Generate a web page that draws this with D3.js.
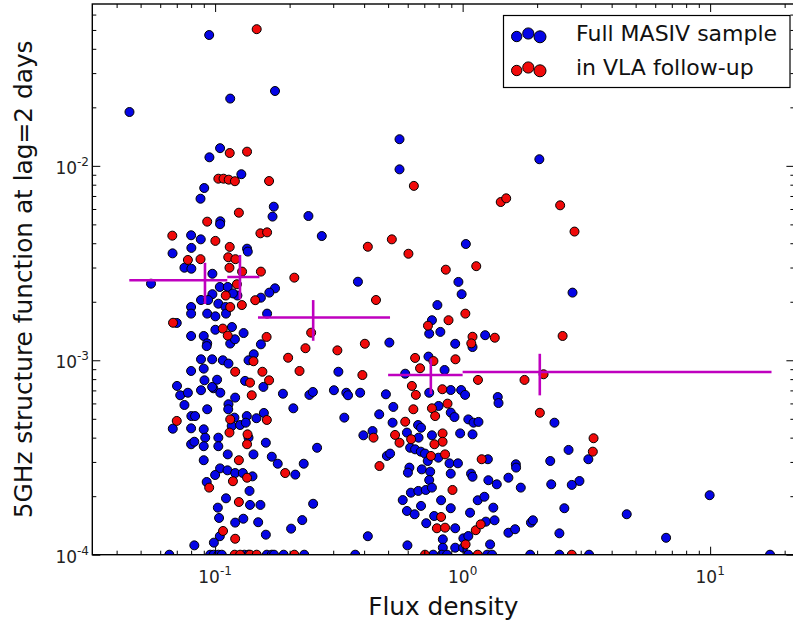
<!DOCTYPE html>
<html><head><meta charset="utf-8">
<script src="https://cdn.jsdelivr.net/npm/d3@7"></script>
<style>body{margin:0;background:#fff}svg{display:block}</style>
</head><body><svg id="c" width="793" height="624"></svg>
<script>
// ---- data (log10 flux density, log10 structure function) ----
const xTicks = [0.1, 1, 10];
const xTickExp = ["-1", "0", "1"];
const yTicks = [1e-4, 1e-3, 1e-2];
const yTickExp = ["-4", "-3", "-2"];
const xDomain = [0.0319, 21.9];
const yDomain = [1e-4, 0.068];

const blueLog = [
[-1.346,-1.723],[-1.024,-1.327],[-0.939,-1.654],[-0.758,-1.615],[-0.255,-1.863],[-0.255,-2.018],[0.310,-1.966],[0.013,-2.402],[-0.017,-2.597],[-0.004,-2.660],[0.444,-2.652],[-0.102,-2.716],[-0.124,-2.794],
[-0.980,-1.909],[-1.023,-1.956],[-0.894,-2.043],[-1.044,-2.114],[-1.059,-2.169],[-0.763,-2.210],[-0.768,-2.261],[-0.979,-2.285],[-0.980,-2.300],[-0.623,-2.258],[-0.569,-2.361],[-1.097,-2.357],[-1.058,-2.378],[-1.172,-2.450],[-1.096,-2.422],[-0.871,-2.426],[-0.868,-2.441],[-1.124,-2.524],[-1.096,-2.529],[-0.423,-2.596],[-1.259,-2.606],[-1.011,-2.555],[-0.981,-2.623],[-0.949,-2.623],[-0.758,-2.630],[-0.781,-2.652],[-0.815,-2.678],[-1.011,-2.660],[-0.910,-2.667],[-1.057,-2.690],[-1.028,-2.690],[-0.987,-2.709],[-0.958,-2.726],[-1.097,-2.726],[-1.097,-2.760],[-1.032,-2.760],[-0.999,-2.774],[-0.956,-2.760],[-0.790,-2.760],[-0.928,-2.656],
[-1.155,-2.808],[-1.097,-2.875],[-1.046,-2.875],[-1.032,-2.913],[-1.034,-2.927],[-0.999,-2.843],[-0.932,-2.829],[-0.939,-2.914],[-0.920,-2.892],[-0.885,-2.860],[-0.815,-2.918],[-0.296,-2.909],[-0.502,-3.059],
[-0.844,-2.969],[-1.097,-3.055],[-1.046,-3.043],[-1.012,-2.995],[-1.057,-2.995],[-0.969,-3.000],[-0.946,-3.017],[-0.865,-3.000],[-0.805,-3.137],[-0.879,-3.106],[-1.154,-3.132],[-1.141,-3.180],[-1.110,-3.167],[-1.124,-3.230],[-1.057,-3.154],[-1.007,-3.144],[-0.979,-3.167],[-1.043,-3.103],[-1.012,-3.137],[-0.992,-3.100],[-0.919,-3.192],[-0.946,-3.226],[-0.947,-3.252],[-1.096,-3.287],[-1.032,-3.252],[-0.872,-3.287],[-0.922,-3.295],[-0.833,-3.298],[-0.803,-3.271],[-0.726,-3.172],[-0.684,-3.247],[-0.619,-3.178],[-0.605,-3.163],[-0.520,-3.154],[-0.470,-3.167],[-0.463,-3.180],[-0.414,-3.167],[-0.478,-3.295],[-0.310,-3.175],[-0.280,-3.240],[-0.283,-3.321],
[-1.171,-3.352],[-1.097,-3.350],[-1.081,-3.287],[-1.046,-3.355],[-1.040,-3.398],[-1.097,-3.432],[-1.084,-3.419],[-0.987,-3.398],[-0.987,-3.442],[-1.046,-3.442],[-1.046,-3.514],[-0.933,-3.338],[-0.899,-3.333],[-0.876,-3.321],[-0.865,-3.398],[-0.949,-3.484],[-0.795,-3.424],[-0.845,-3.484],[-0.771,-3.496],[-0.747,-3.532],[-0.676,-3.588],[-0.642,-3.532],[-0.588,-3.450],[-0.980,-3.556],[-0.950,-3.566],[-0.919,-3.580],[-0.888,-3.580],[-0.849,-3.597],[-1.034,-3.626],[-0.861,-3.672],[-1.000,-3.590],[-0.956,-3.710],[-0.859,-3.744],[-0.817,-3.744],[-0.989,-3.758],[-0.604,-3.738],[-0.984,-3.811],[-0.919,-3.835],[-0.886,-3.815],[-0.826,-3.833],[-0.981,-3.905],[-1.005,-3.938],[-0.795,-3.897],[-0.693,-3.866],[-0.648,-3.822],[-1.084,-3.952],[-0.383,-3.905],
[-1.185,-4],[-1.020,-4],[-1.006,-4],[-0.987,-4],[-0.973,-4],[-0.882,-4],[-0.865,-4],[-0.791,-4],[-0.771,-4],[-0.762,-4],[-0.723,-4],[-0.640,-4],[-0.434,-4],
[-0.135,-2.863],[-0.090,-2.854],[-0.030,-2.915],[0.040,-2.932],[0.091,-2.871],[-0.138,-2.981],[-0.073,-3.050],[-0.232,-3.069],[-0.135,-3.167],[-0.048,-3.153],[-0.006,-3.153],[0.010,-3.178],[0.142,-3.189],[0.145,-3.220],[-0.097,-3.235],[-0.048,-3.269],[-0.033,-3.292],[-0.337,-3.278],[-0.180,-3.333],[-0.168,-3.347],[0.023,-3.304],[0.044,-3.321],[0.064,-3.317],[-0.401,-3.386],[-0.364,-3.364],[-0.225,-3.372],[-0.178,-3.398],[-0.124,-3.386],[-0.010,-3.376],[0.040,-3.381],[-0.212,-3.450],[-0.192,-3.458],[-0.169,-3.470],[-0.152,-3.480],[-0.098,-3.501],[-0.306,-3.492],[-0.293,-3.480],[0.102,-3.509],[-0.141,-3.518],[-0.053,-3.530],[-0.019,-3.530],[-0.215,-3.552],[-0.221,-3.578],[-0.165,-3.561],[-0.131,-3.573],[-0.048,-3.583],[0.034,-3.583],[0.040,-3.599],[0.215,-3.535],[0.216,-3.552],[0.185,-3.604],[0.104,-3.617],[0.138,-3.638],[-0.135,-3.616],[0.235,-3.655],[0.354,-3.518],[0.358,-3.638],[-0.242,-3.719],[-0.209,-3.681],[-0.179,-3.672],[-0.149,-3.667],[-0.124,-3.655],[-0.087,-3.720],[-0.168,-3.749],[-0.225,-3.775],[-0.194,-3.792],[-0.048,-3.761],[0.030,-3.784],[0.061,-3.720],[0.088,-3.702],[0.124,-3.758],[-0.115,-3.801],[-0.147,-3.838],[-0.030,-3.864],[0.094,-3.830],[0.129,-3.823],[-0.080,-3.921],[0.003,-3.916],[0.023,-3.904],[-0.223,-3.952],[0.111,-3.947],[0.185,-3.887],[0.212,-3.869],[0.276,-3.835],[0.284,-3.823],[-0.080,-3.964],[-0.030,-3.964],[0.002,-3.964],[0.391,-3.890],[0.822,-3.913],[0.371,-3.321],[0.428,-3.461],[0.508,-3.509],[0.472,-3.621],[0.441,-3.641],[0.411,-3.761],[0.663,-3.792],[0.998,-3.694],
[-0.119,-4],[-0.084,-4],[-0.063,-4],[0.023,-4],[0.099,-4],[0.119,-4],[0.273,-4],[0.391,-4],[0.511,-4],[1.242,-4]
];

const redLog = [
[-0.832,-1.297],[-0.197,-2.103],[0.154,-2.186],[0.176,-2.167],[0.394,-2.203],[0.452,-2.338],[-0.219,-2.452],[-0.068,-2.534],[0.055,-2.516],[0.011,-2.760],[-0.057,-2.794],
[-0.941,-1.934],[-0.871,-1.927],[-0.987,-2.066],[-0.966,-2.066],[-0.945,-2.071],[-0.920,-2.079],[-0.782,-2.078],[-0.904,-2.241],[-1.032,-2.287],[-0.817,-2.347],[-0.790,-2.342],[-1.173,-2.359],[-0.999,-2.386],[-0.941,-2.417],[-1.110,-2.484],[-1.059,-2.480],[-0.947,-2.470],[-0.918,-2.480],[-0.942,-2.524],[-0.891,-2.544],[-0.815,-2.544],[-0.680,-2.575],[-0.912,-2.609],[-0.957,-2.667],[-0.838,-2.691],[-0.350,-2.690],[-0.892,-2.716],[-0.939,-2.726],[-0.383,-2.416],[-0.286,-2.378],
[-1.170,-2.807],[-0.969,-2.837],[-0.949,-2.873],[-0.792,-2.880],[-0.612,-2.858],[-0.635,-2.938],[-0.506,-2.949],[-0.395,-2.915],[-0.405,-3.076],[-0.705,-2.987],[-0.659,-3.055],[-0.845,-3.005],[-0.919,-3.059],[-0.809,-3.059],[-0.782,-3.103],[-0.859,-3.115],[-0.852,-3.180],[-0.939,-3.304],[-0.791,-3.307],[-1.155,-3.312],[-0.942,-3.372],[-0.869,-3.381],[-0.871,-3.432],[-0.717,-3.580],[-0.904,-3.514],[-0.871,-3.604],[-1.024,-3.655],[-0.928,-3.622],[-0.904,-3.729],[-0.968,-3.878],[-0.919,-3.918],
[-0.921,-4],[-0.899,-4],[-0.859,-4],[-0.832,-4],[-0.680,-4],
[-0.140,-2.822],[0.040,-2.879],[0.035,-2.913],[0.130,-2.884],[-0.192,-2.988],[-0.118,-3.004],[-0.029,-2.995],[-0.172,-3.041],[0.062,-3.101],[0.250,-3.101],[0.327,-3.072],[-0.205,-3.132],[-0.189,-3.178],[-0.082,-3.149],[-0.199,-3.252],[-0.124,-3.247],[-0.061,-3.223],[-0.111,-3.287],[-0.232,-3.316],[-0.360,-3.398],[-0.273,-3.384],[-0.255,-3.424],[-0.208,-3.406],[-0.081,-3.376],[-0.081,-3.419],[-0.114,-3.432],[-0.128,-3.492],[-0.071,-3.484],[-0.336,-3.544],[0.077,-3.509],[-0.041,-3.667],[-0.087,-3.806],[-0.104,-3.864],[-0.071,-3.861],[0.053,-3.874],[0.073,-3.844],[0.012,-3.947],[0.404,-2.875],[0.312,-3.270],[0.529,-3.401],[0.526,-3.470],
[-0.152,-4],[0.061,-4],[0.441,-4]
];

// binned means with errors (magenta crosses)
const binFlux  = [0.091, 0.126, 0.249, 0.744, 2.05];
const binFluxLo = [0.045, 0.112, 0.149, 0.500, 1.00];
const binFluxHi = [0.112, 0.151, 0.509, 1.00, 17.7];
const binSF    = [2.58e-3, 2.68e-3, 1.66e-3, 8.4e-4, 8.7e-4];
const binSFLo  = [1.95e-3, 2.06e-3, 1.26e-3, 6.7e-4, 6.6e-4];
const binSFHi  = [3.17e-3, 3.48e-3, 2.04e-3, 1.02e-3, 1.08e-3];

const seriesNames = ["Full MASIV sample", "in VLA follow-up"];
const seriesColors = ["#0505e6", "#f00a0a"];

// ---- drawing ----
const svg = d3.select("#c");
const L = 92.3, R = 794.4, T = 4, B = 554.7;
const x = d3.scaleLog().domain(xDomain).range([L, R]);
const y = d3.scaleLog().domain(yDomain).range([B, T]);
const font = "DejaVu Sans, sans-serif";

svg.append("defs").append("clipPath").attr("id","clip")
  .append("rect").attr("x",L).attr("y",T).attr("width",R-L).attr("height",B-T);

const pts = svg.append("g").attr("clip-path","url(#clip)");
function drawSeries(data, color){
  pts.append("g").selectAll("circle").data(data).join("circle")
    .attr("cx", d => x(Math.pow(10,d[0])))
    .attr("cy", d => y(Math.pow(10,d[1])))
    .attr("r", 4.5)
    .attr("fill", color).attr("stroke","#000").attr("stroke-width",1);
}
drawSeries(blueLog, seriesColors[0]);
drawSeries(redLog, seriesColors[1]);

// error bars
const eb = svg.append("g").attr("clip-path","url(#clip)").attr("stroke","#bf00bf").attr("stroke-width",2.6);
binFlux.forEach((f,i)=>{
  eb.append("line").attr("x1",x(binFluxLo[i])).attr("x2",x(binFluxHi[i]))
    .attr("y1",y(binSF[i])).attr("y2",y(binSF[i]));
  eb.append("line").attr("x1",x(f)).attr("x2",x(f))
    .attr("y1",y(binSFLo[i])).attr("y2",y(binSFHi[i]));
});

// minor ticks
function minors(dom){
  const out=[]; const a=Math.floor(Math.log10(dom[0])), b=Math.ceil(Math.log10(dom[1]));
  for(let e=a;e<=b;e++) for(let k=2;k<=9;k++){const v=k*Math.pow(10,e); if(v>dom[0]&&v<dom[1]) out.push(v);}
  return out;
}
const xMin = minors(xDomain), yMin = minors(yDomain);
function ax(gen, tr, vals, size){
  const g = svg.append("g").attr("transform",tr)
    .call(gen.tickValues(vals).tickSize(size).tickFormat(""));
  g.select(".domain").remove();
  g.selectAll("line").attr("stroke","#000").attr("stroke-width",1);
}
ax(d3.axisBottom(x), `translate(0,${B})`, xTicks, -8);
ax(d3.axisBottom(x), `translate(0,${B})`, xMin, -4);
ax(d3.axisTop(x), `translate(0,${T})`, xTicks, -8);
ax(d3.axisTop(x), `translate(0,${T})`, xMin, -4);
ax(d3.axisLeft(y), `translate(${L},0)`, yTicks, -8);
ax(d3.axisLeft(y), `translate(${L},0)`, yMin, -4);
ax(d3.axisRight(y), `translate(${R},0)`, yTicks, -8);
ax(d3.axisRight(y), `translate(${R},0)`, yMin, -4);

// frame
svg.append("rect").attr("x",L).attr("y",T).attr("width",R-L).attr("height",B-T)
  .attr("fill","none").attr("stroke","#000").attr("stroke-width",1.4);

// tick labels
xTicks.forEach((v,i)=>{
  const t = svg.append("text").attr("x",x(v)).attr("y",583).attr("text-anchor","middle")
    .attr("font-family",font).attr("font-size",17).attr("fill","#222");
  t.append("tspan").text("10");
  t.append("tspan").attr("dy",-8).attr("font-size",12).text(xTickExp[i]);
});
yTicks.forEach((v,i)=>{
  const t = svg.append("text").attr("x",89).attr("y",y(v)+8).attr("text-anchor","end")
    .attr("font-family",font).attr("font-size",17).attr("fill","#222");
  t.append("tspan").text("10");
  t.append("tspan").attr("dy",-8).attr("font-size",12).text(yTickExp[i]);
});

// axis labels
svg.append("text").attr("x",(L+R)/2).attr("y",615).attr("text-anchor","middle")
  .attr("font-family",font).attr("font-size",24.8).attr("fill","#111").text("Flux density");
svg.append("text").attr("transform",`translate(32,${(T+B)/2}) rotate(-90)`).attr("text-anchor","middle")
  .attr("font-family",font).attr("font-size",24.8).attr("fill","#111").text("5GHz structure function at lag=2 days");

// legend
const lg = svg.append("g");
lg.append("rect").attr("x",503.5).attr("y",15.5).attr("width",286.5).attr("height",72)
  .attr("fill","#fff").attr("stroke","#000").attr("stroke-width",1.2);
const legMarkers = [[516.7,1.5,5.2],[528.3,-1.5,5.6],[540,1.8,6]];
seriesNames.forEach((n,i)=>{
  const cy = 35 + i*34;
  legMarkers.forEach(m=>{
    lg.append("circle").attr("cx",m[0]).attr("cy",cy+m[1]).attr("r",m[2])
      .attr("fill",seriesColors[i]).attr("stroke","#000").attr("stroke-width",1);
  });
  lg.append("text").attr("x",576).attr("y",cy+6).attr("font-family",font).attr("font-size",22)
    .attr("fill","#111").text(n);
});
</script></body></html>
